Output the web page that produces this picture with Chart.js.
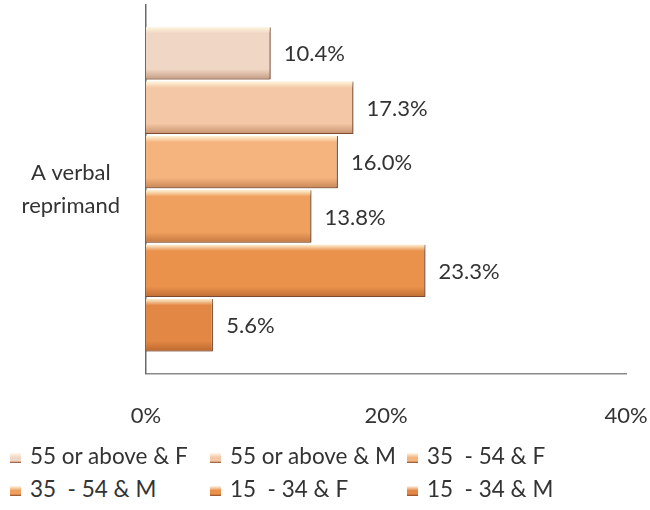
<!DOCTYPE html>
<html>
<head>
<meta charset="utf-8">
<script src="https://cdn.jsdelivr.net/npm/chart.js@4"></script>
<style>
  body { margin: 0; background: #fff; font-family: Lato, "Open Sans", sans-serif; }
  #wrap { position: relative; width: 650px; height: 510px; }
  #myChart { position: absolute; left: 0; top: 0; }
  .leg { position: absolute; font-size: 22.5px; color: #333; white-space: pre; line-height: 26px; }
  .leg span.sw { display: inline-block; width: 11px; height: 10px; margin-right: 9px; vertical-align: 1px; }
</style>
</head>
<body>
<div id="wrap">
  <canvas id="myChart" width="650" height="458"></canvas>
  <div id="legend"></div>
</div>
<script>
const categories = [['A verbal', 'reprimand']];
const seriesNames = ['55 or above & F', '55 or above & M', '35  - 54 & F', '35  - 54 & M', '15  - 34 & F', '15  - 34 & M'];
const seriesValues = [10.4, 17.3, 16.0, 13.8, 23.3, 5.6];
const seriesColors = ['#f0d6c4', '#f4c8a6', '#f5b47e', '#f0a05e', '#ea914b', '#e38844'];
const xTicks = [0, 20, 40];

const ctx = document.getElementById('myChart');

// lighter top edge and darker bottom edge on each bar
const bevel = {
  id: 'bevel',
  afterDatasetDraw(chart, args) {
    const c = chart.ctx;
    args.meta.data.forEach(bar => {
      const top = bar.y - bar.height / 2;
      const g = c.createLinearGradient(0, top, 0, top + bar.height);
      g.addColorStop(0, 'rgba(255,250,225,0.9)');
      g.addColorStop(0.12, 'rgba(255,250,225,0.0)');
      g.addColorStop(0.8, 'rgba(120,50,10,0.0)');
      g.addColorStop(1, 'rgba(110,45,10,0.35)');
      c.save();
      c.fillStyle = g;
      c.fillRect(bar.base, top, bar.x - bar.base - 1, bar.height);
      c.restore();
    });
  }
};

// percentage text to the right of each bar
const valueLabels = {
  id: 'valueLabels',
  afterDatasetsDraw(chart) {
    const c = chart.ctx;
    c.save();
    c.font = '22px Lato, "Open Sans", sans-serif';
    c.fillStyle = '#333';
    c.textBaseline = 'middle';
    chart.data.datasets.forEach((ds, i) => {
      chart.getDatasetMeta(i).data.forEach((bar, j) => {
        c.fillText(ds.data[j].toFixed(1) + '%', bar.x + 13, bar.y + 1);
      });
    });
    c.restore();
  }
};

const datasets = seriesNames.map((name, i) => ({
  label: name,
  data: [seriesValues[i]],
  backgroundColor: seriesColors[i],
  borderColor: 'rgba(110,60,35,0.85)',
  borderWidth: { top: 0, right: 1.5, bottom: 1, left: 0 },
  borderSkipped: 'left',
  categoryPercentage: 0.885,
  barPercentage: 0.963
}));

const chart = new Chart(ctx, {
  type: 'bar',
  data: { labels: categories, datasets: datasets },
  options: {
    indexAxis: 'y',
    responsive: false,
    animation: false,
    layout: { padding: { top: 5, right: 24, bottom: 0, left: 0 } },
    plugins: { legend: { display: false }, tooltip: { enabled: false } },
    scales: {
      x: {
        min: 0, max: 40,
        afterBuildTicks: axis => { axis.ticks = xTicks.map(v => ({ value: v })); },
        afterFit: axis => { axis.paddingLeft = 0; axis.paddingRight = 0; },
        grid: { display: false, drawTicks: false },
        border: { color: '#8a8a8a', width: 1.5 },
        ticks: {
          padding: 29,
          maxRotation: 0,
          color: '#333',
          font: { family: 'Lato', size: 22 },
          callback: v => v + '%'
        }
      },
      y: {
        afterFit: axis => { axis.width = 146; axis.paddingTop = 0; axis.paddingBottom = 0; },
        grid: { display: false, drawTicks: false },
        border: { color: '#6a6a6a', width: 1.5 },
        ticks: {
          crossAlign: 'center',
          padding: 26,
          color: '#333',
          font: { family: 'Lato', size: 22, lineHeight: 1.5 }
        }
      }
    }
  },
  plugins: [bevel, valueLabels]
});

// legend laid out in three fixed columns
const legend = document.getElementById('legend');
const colX = [10, 210, 407];
const rowY = [443, 476];
seriesNames.forEach((name, i) => {
  const d = document.createElement('div');
  d.className = 'leg';
  d.style.left = colX[i % 3] + 'px';
  d.style.top = rowY[Math.floor(i / 3)] + 'px';
  const sw = document.createElement('span');
  sw.className = 'sw';
  sw.style.background = 'linear-gradient(to bottom, #fff6ea 0%, ' + seriesColors[i] + ' 45%, ' + seriesColors[i] + ' 80%, #8a4a24 100%)';
  d.appendChild(sw);
  d.appendChild(document.createTextNode(name));
  legend.appendChild(d);
});
</script>
</body>
</html>
